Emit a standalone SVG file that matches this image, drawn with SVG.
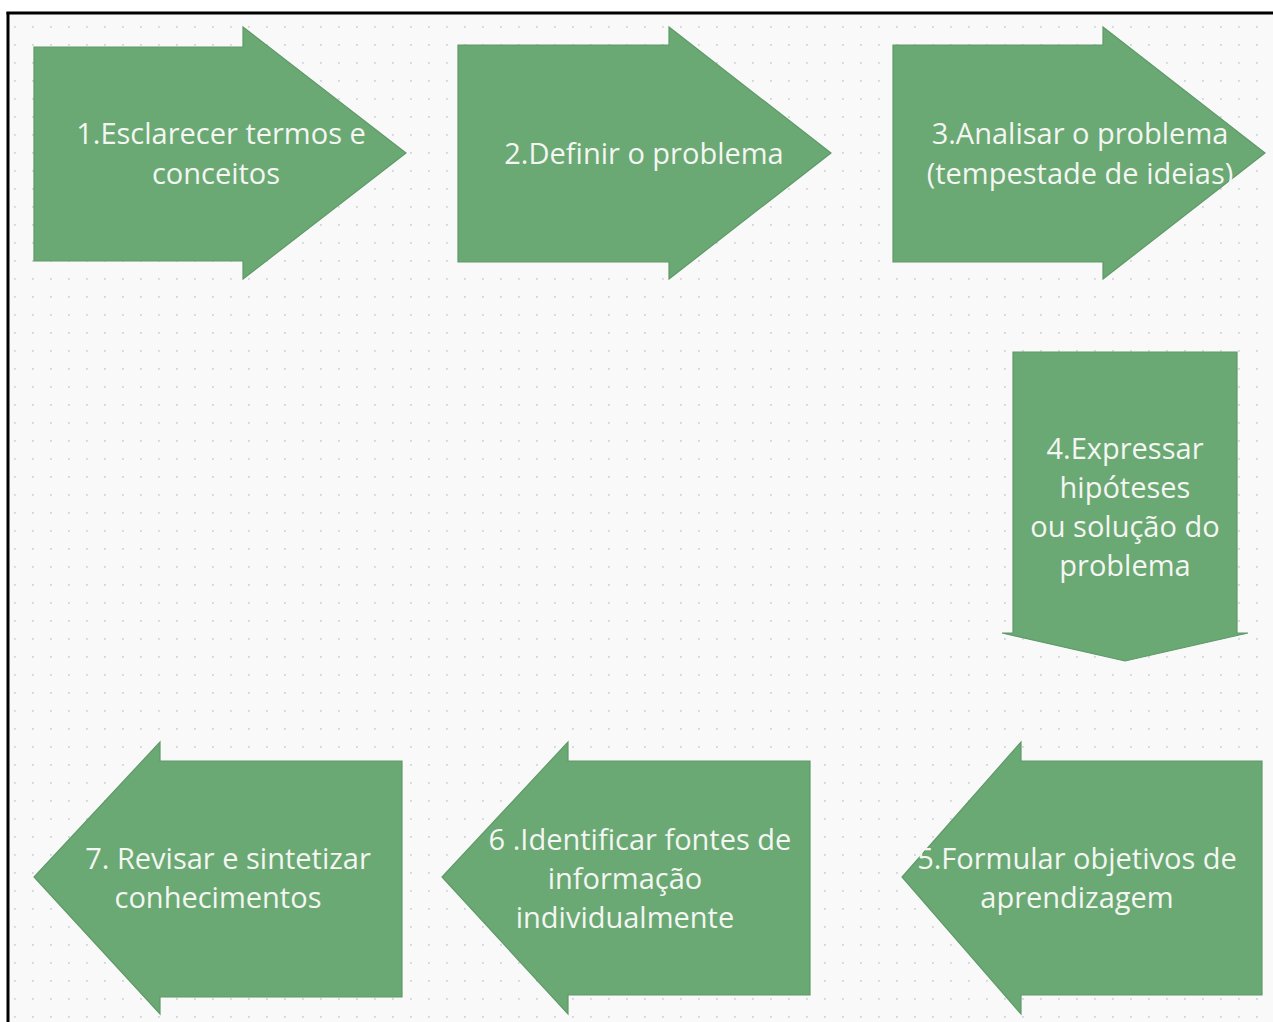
<svg xmlns="http://www.w3.org/2000/svg" width="1273" height="1022" viewBox="0 0 1273 1022">
<defs>
<pattern id="dots" x="14" y="8" width="18" height="18" patternUnits="userSpaceOnUse">
<rect x="0" y="0" width="1.8" height="1.8" fill="#d2d3dc"/>
</pattern>
<style>
.arrow{fill:#6aa874;stroke:#5e9a68;stroke-width:1.2}
.lbl{font-family:"Open Sans","Noto Sans","DejaVu Sans",sans-serif;font-size:29px;fill:#f4f6f2;text-anchor:middle}
</style>
</defs>
<rect x="0" y="0" width="1273" height="1022" fill="#ffffff"/>
<rect x="8" y="13" width="1265" height="1009" fill="#f9f9f9"/>
<rect x="8" y="13" width="1265" height="1009" fill="url(#dots)"/>
<g id="frame">
<line x1="6.5" y1="13" x2="1273" y2="13" stroke="#000" stroke-width="3"/>
<line x1="8" y1="12" x2="8" y2="1022" stroke="#000" stroke-width="3"/>
</g>
<g id="connectors"></g>
<g id="step1">
<polygon class="arrow" points="34,47 243,47 243,27 406,153 243,279 243,261 34,261"/>
<text class="lbl" x="221" y="144">1.Esclarecer termos e</text>
<text class="lbl" x="216" y="184">conceitos</text>
</g>
<g id="step2">
<polygon class="arrow" points="458,45 669,45 669,27 831,153 669,279 669,262 458,262"/>
<text class="lbl" x="644" y="164">2.Definir o problema</text>
</g>
<g id="step3">
<polygon class="arrow" points="893,45 1103,45 1103,27 1265,153 1103,279 1103,262 893,262"/>
<text class="lbl" x="1080" y="144">3.Analisar o problema</text>
<text class="lbl" x="1080" y="184">(tempestade de ideias)</text>
</g>
<g id="step4">
<polygon class="arrow" points="1013,352 1237,352 1237,633 1248,633 1125,661 1002,633 1013,633"/>
<text class="lbl" x="1125" y="459">4.Expressar</text>
<text class="lbl" x="1125" y="498">hipóteses</text>
<text class="lbl" x="1125" y="537">ou solução do</text>
<text class="lbl" x="1125" y="576">problema</text>
</g>
<g id="step5">
<polygon class="arrow" points="1262,761 1021,761 1021,742 902,877 1021,1014 1021,995 1262,995"/>
<text class="lbl" x="1077" y="869">5.Formular objetivos de</text>
<text class="lbl" x="1077" y="908">aprendizagem</text>
</g>
<g id="step6">
<polygon class="arrow" points="810,761 568,761 568,742 442,877 568,1014 568,995 810,995"/>
<text class="lbl" x="640" y="850">6 .Identificar fontes de</text>
<text class="lbl" x="625" y="889">informação</text>
<text class="lbl" x="625" y="928">individualmente</text>
</g>
<g id="step7">
<polygon class="arrow" points="402,761 160,761 160,742 34,877 160,1014 160,997 402,997"/>
<text class="lbl" x="228" y="869">7. Revisar e sintetizar</text>
<text class="lbl" x="218" y="908">conhecimentos</text>
</g>
</svg>
